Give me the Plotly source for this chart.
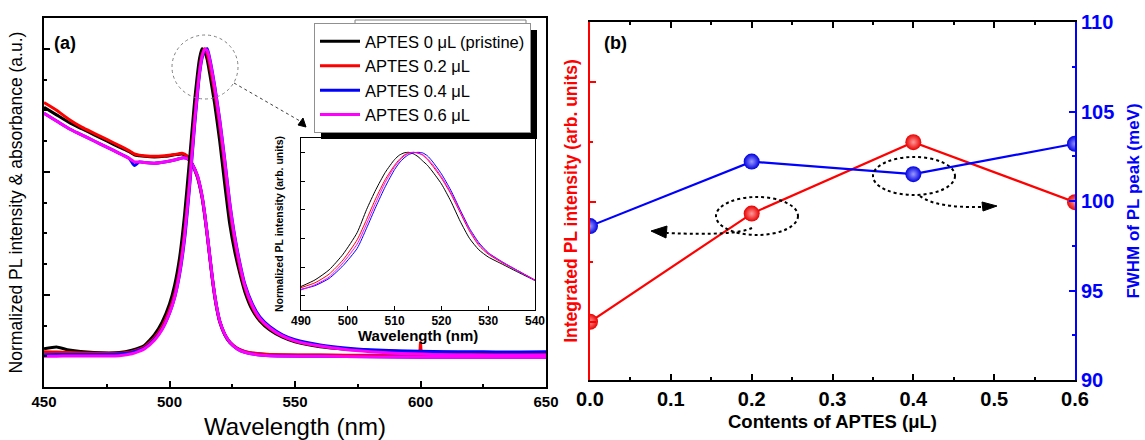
import plotly.graph_objects as go

W, H = 1145, 440
def px(x): return x / W
def py(y): return 1 - y / H

FONT = "Liberation Sans, Arial, sans-serif"

# ---------------- data: panel (a) ----------------
series_names = ["APTES 0 μL (pristine)", "APTES 0.2 μL", "APTES 0.4 μL", "APTES 0.6 μL"]
series_colors = ["#000000", "#ff0000", "#0000ff", "#ff00ff"]

pl_wl = [450, 455, 460, 470, 480, 485, 490, 494, 497, 500, 502, 504, 506, 508, 510, 512, 513, 514,
         515, 516, 518, 520, 522, 524, 526, 528, 530, 533, 536, 540, 545, 550, 560, 570, 580, 590,
         600, 610, 620, 630, 640, 650]
pl_wl_red = [450, 455, 460, 470, 480, 485, 490, 494, 497, 500, 502, 504, 506, 508, 510, 512, 513, 514,
             515, 516, 518, 520, 522, 524, 526, 528, 530, 533, 536, 540, 545, 550, 560, 570, 580, 590,
             599.5, 600, 600.5, 610, 620, 630, 640, 650]
pl_black = [0.024, 0.030, 0.020, 0.012, 0.012, 0.020, 0.035, 0.070, 0.110, 0.170, 0.230, 0.320, 0.460,
            0.640, 0.830, 0.970, 1.000, 0.990, 0.965, 0.920, 0.820, 0.700, 0.560, 0.430, 0.340, 0.270,
            0.210, 0.150, 0.115, 0.085, 0.062, 0.047, 0.031, 0.023, 0.019, 0.016, 0.014, 0.013, 0.012,
            0.012, 0.011, 0.011]
pl_red = [0.015, 0.014, 0.012, 0.010, 0.010, 0.015, 0.030, 0.060, 0.095, 0.150, 0.200, 0.280, 0.400,
          0.570, 0.770, 0.930, 0.980, 1.000, 0.985, 0.950, 0.860, 0.750, 0.620, 0.480, 0.375, 0.290,
          0.225, 0.160, 0.120, 0.090, 0.065, 0.049, 0.033, 0.024, 0.019, 0.016, 0.014, 0.045, 0.014,
          0.013, 0.012, 0.012, 0.012, 0.012]
pl_blue = [0.005, 0.006, 0.006, 0.006, 0.007, 0.012, 0.027, 0.055, 0.088, 0.140, 0.190, 0.265, 0.380,
           0.550, 0.750, 0.920, 0.970, 0.995, 1.000, 0.970, 0.880, 0.770, 0.640, 0.500, 0.390, 0.305,
           0.235, 0.170, 0.128, 0.096, 0.070, 0.054, 0.037, 0.027, 0.021, 0.018, 0.016, 0.015, 0.015,
           0.014, 0.014, 0.015]
pl_magenta = [0.000, 0.000, 0.001, 0.001, 0.002, 0.008, 0.024, 0.052, 0.086, 0.140, 0.190, 0.270, 0.390,
              0.560, 0.760, 0.925, 0.975, 0.998, 0.995, 0.965, 0.875, 0.765, 0.635, 0.495, 0.385, 0.300,
              0.230, 0.165, 0.123, 0.092, 0.066, 0.050, 0.033, 0.022, 0.015, 0.010, 0.007, 0.005, 0.004,
              0.003, 0.003, 0.003]

abs_wl = [450, 455, 460, 465, 470, 475, 480, 484, 486, 488, 490, 494, 498, 502, 505, 507, 509, 511, 512,
          513, 514, 515, 516, 517, 518, 519, 520, 522, 524, 527, 530, 535, 540, 560, 580, 600, 620, 650]
abs_black = [0.810, 0.785, 0.760, 0.740, 0.720, 0.700, 0.680, 0.665, 0.655, 0.652, 0.650, 0.648, 0.650,
             0.655, 0.658, 0.650, 0.625, 0.585, 0.555, 0.515, 0.460, 0.395, 0.325, 0.255, 0.195, 0.148,
             0.112, 0.070, 0.045, 0.025, 0.015, 0.008, 0.005, 0.003, 0.002, 0.001, 0.000, 0.000]
abs_red = [0.825, 0.800, 0.770, 0.745, 0.725, 0.705, 0.685, 0.668, 0.658, 0.654, 0.652, 0.650, 0.652,
           0.656, 0.660, 0.652, 0.626, 0.586, 0.556, 0.516, 0.461, 0.396, 0.326, 0.256, 0.196, 0.149,
           0.113, 0.071, 0.046, 0.026, 0.016, 0.009, 0.006, 0.004, 0.003, 0.002, 0.001, 0.001]
abs_blue = [0.790, 0.765, 0.740, 0.720, 0.700, 0.680, 0.660, 0.643, 0.620, 0.632, 0.630, 0.628, 0.632,
            0.638, 0.645, 0.643, 0.625, 0.590, 0.560, 0.520, 0.465, 0.400, 0.330, 0.260, 0.200, 0.152,
            0.115, 0.072, 0.046, 0.024, 0.013, 0.005, 0.002, 0.000, -0.002, -0.003, -0.003, -0.003]
abs_magenta = [0.790, 0.765, 0.740, 0.720, 0.700, 0.680, 0.660, 0.643, 0.632, 0.632, 0.630, 0.628, 0.632,
               0.638, 0.645, 0.643, 0.625, 0.590, 0.560, 0.520, 0.465, 0.400, 0.330, 0.260, 0.200, 0.152,
               0.115, 0.072, 0.046, 0.024, 0.013, 0.005, 0.002, 0.000, -0.002, -0.003, -0.003, -0.003]

# inset
inset_wl = [490, 493, 496, 499, 502, 504, 506, 508, 510, 511, 512, 513, 514, 515, 516, 517, 518, 520,
            522, 524, 526, 528, 530, 533, 536, 540]
inset_black = [0.532, 0.555, 0.590, 0.645, 0.720, 0.800, 0.870, 0.930, 0.975, 0.990, 0.998, 1.000, 0.995,
               0.985, 0.970, 0.955, 0.935, 0.890, 0.830, 0.760, 0.700, 0.660, 0.635, 0.610, 0.585, 0.553]
inset_red = [0.528, 0.545, 0.575, 0.625, 0.695, 0.765, 0.840, 0.905, 0.955, 0.975, 0.990, 0.998, 1.000,
             0.997, 0.990, 0.975, 0.955, 0.910, 0.855, 0.790, 0.725, 0.675, 0.645, 0.615, 0.590, 0.555]
inset_blue = [0.522, 0.535, 0.560, 0.605, 0.665, 0.735, 0.810, 0.880, 0.940, 0.963, 0.980, 0.992, 0.998,
              1.000, 0.998, 0.988, 0.970, 0.925, 0.868, 0.800, 0.735, 0.685, 0.650, 0.618, 0.590, 0.553]
inset_magenta = [0.520, 0.538, 0.565, 0.615, 0.680, 0.750, 0.825, 0.895, 0.950, 0.970, 0.987, 0.996, 1.000,
                 0.998, 0.992, 0.978, 0.960, 0.915, 0.860, 0.795, 0.730, 0.680, 0.648, 0.617, 0.590, 0.553]

# ---------------- data: panel (b) ----------------
aptes = [0.0, 0.2, 0.4, 0.6]
integrated_pl = [1.01, 2.81, 4.00, 3.00]
fwhm_mev = [98.6, 102.2, 101.5, 103.2]

fig = go.Figure()

pl_sets = [(pl_wl, pl_black), (pl_wl_red, pl_red), (pl_wl, pl_blue), (pl_wl, pl_magenta)]
abs_sets = [abs_black, abs_red, abs_blue, abs_magenta]
inset_sets = [inset_black, inset_red, inset_blue, inset_magenta]

for i in range(4):
    fig.add_trace(go.Scatter(x=abs_wl, y=abs_sets[i], mode="lines", xaxis="x", yaxis="y",
                             line=dict(color=series_colors[i], width=3, shape="spline", smoothing=0.5),
                             showlegend=False, hoverinfo="skip"))
for i in range(4):
    wl, vals = pl_sets[i]
    fig.add_trace(go.Scatter(x=wl, y=vals, mode="lines", xaxis="x", yaxis="y",
                             name=series_names[i],
                             line=dict(color=series_colors[i], width=3, shape="spline", smoothing=0.5),
                             showlegend=True))
for i in range(4):
    fig.add_trace(go.Scatter(x=inset_wl, y=inset_sets[i], mode="lines", xaxis="x3", yaxis="y3",
                             line=dict(color=series_colors[i], width=1, shape="spline", smoothing=0.6),
                             showlegend=False))

# panel (b)
fig.add_trace(go.Scatter(x=aptes, y=integrated_pl, mode="lines+markers", xaxis="x2", yaxis="y2",
                         line=dict(color="#ff0000", width=2.2),
                         marker=dict(size=16, color="#e80000",
                                     gradient=dict(type="radial", color="#ff9a9a")),
                         showlegend=False))
fig.add_trace(go.Scatter(x=aptes, y=fwhm_mev, mode="lines+markers", xaxis="x2", yaxis="y4",
                         line=dict(color="#0000ff", width=2.2),
                         marker=dict(size=16, color="#0000e0",
                                     gradient=dict(type="radial", color="#9a9aff")),
                         showlegend=False))

fig.update_layout(
    width=W, height=H, margin=dict(l=0, r=0, t=0, b=0, autoexpand=False),
    paper_bgcolor="white", plot_bgcolor="white",
    font=dict(family=FONT, color="black"),
    xaxis=dict(domain=[px(44), px(546)], range=[450, 650], dtick=50, tick0=450, automargin=False,
               ticks="inside", ticklen=6, tickwidth=2, tickcolor="black",
               minor=dict(dtick=25, ticks="inside", ticklen=3, tickwidth=2, tickcolor="black"),
               showline=True, linewidth=2, linecolor="black", mirror=True, showgrid=False, zeroline=False,
               tickfont=dict(family=FONT, size=15, color="black", weight="bold"),
               title=dict(text="Wavelength (nm)", font=dict(family=FONT, size=24), standoff=10),
               anchor="y"),
    yaxis=dict(domain=[py(387), py(18)], range=[-0.1, 1.1], dtick=0.4, tick0=0.2, automargin=False,
               ticks="inside", ticklen=6, tickwidth=2, tickcolor="black",
               minor=dict(dtick=0.1, ticks="inside", ticklen=3, tickwidth=2, tickcolor="black"),
               showticklabels=False,
               showline=True, linewidth=2, linecolor="black", mirror=True, showgrid=False, zeroline=False,
               title=dict(text="Normalized PL intensity &amp; absorbance (a.u.)",
                          font=dict(family=FONT, size=17.5), standoff=15),
               anchor="x"),
    xaxis3=dict(domain=[px(301), px(535)], range=[490, 540], dtick=10, tick0=490, automargin=False,
                ticks="inside", ticklen=4, tickwidth=1, tickcolor="black",
                showline=True, linewidth=1, linecolor="black", mirror=True, showgrid=False, zeroline=False,
                tickfont=dict(family=FONT, size=12, color="black", weight="bold"),
                anchor="y3"),
    yaxis3=dict(domain=[py(310), py(138)], range=[0.45, 1.05], dtick=0.1, tick0=0.5, automargin=False,
                ticks="inside", ticklen=4, tickwidth=1, tickcolor="black",
                showticklabels=False,
                showline=True, linewidth=1, linecolor="black", mirror=True, showgrid=False, zeroline=False,
                title=dict(text="Normalized PL intensity (arb. units)",
                           font=dict(family=FONT, size=10.5, weight="bold"), standoff=14),
                anchor="x3"),
    xaxis2=dict(domain=[px(590), px(1075)], range=[0, 0.6], dtick=0.1, tick0=0, tickformat=".1f",
                automargin=False,
                ticks="inside", ticklen=6, tickwidth=2, tickcolor="black",
                minor=dict(dtick=0.05, ticks="inside", ticklen=3, tickwidth=2, tickcolor="black"),
                showline=True, linewidth=2, linecolor="black", mirror="ticks", showgrid=False, zeroline=False,
                tickfont=dict(family=FONT, size=20, color="black", weight="bold"),
                title=dict(text="Contents of APTES (μL)", font=dict(family=FONT, size=18.5, weight="bold"),
                           standoff=6),
                anchor="y2"),
    yaxis2=dict(domain=[py(380), py(22)], range=[0.04, 6.0], dtick=2, tick0=1, automargin=False,
                ticks="inside", ticklen=6, tickwidth=2, tickcolor="#ff0000",
                minor=dict(dtick=1, ticks="inside", ticklen=3, tickwidth=2, tickcolor="#ff0000"),
                showticklabels=False,
                showline=True, linewidth=2, linecolor="#ff0000", showgrid=False, zeroline=False,
                title=dict(text="Integrated PL intensity (arb. units)",
                           font=dict(family=FONT, size=17.5, color="#ff0000", weight="bold"), standoff=6),
                anchor="x2"),
    yaxis4=dict(domain=[py(380), py(22)], range=[90, 110], dtick=5, tick0=90, automargin=False,
                overlaying="y2", side="right",
                ticks="inside", ticklen=6, tickwidth=2, tickcolor="#0000ff",
                minor=dict(dtick=2.5, ticks="inside", ticklen=3, tickwidth=2, tickcolor="#0000ff"),
                showline=True, linewidth=2, linecolor="#0000ff", showgrid=False, zeroline=False,
                tickfont=dict(family=FONT, size=20, color="#0000ff", weight="bold"),
                title=dict(text="FWHM of PL peak (meV)",
                           font=dict(family=FONT, size=17, color="#0000ff", weight="bold"), standoff=14),
                anchor="x2"),
    legend=dict(x=px(314), y=py(23), xanchor="left", yanchor="top",
                bgcolor="white", bordercolor="#909090", borderwidth=1,
                font=dict(family=FONT, size=16.5, color="black"),
                itemwidth=40, tracegroupgap=0),
)

shapes = []
# grey box behind legend and legend shadow
shapes.append(dict(type="rect", xref="paper", yref="paper", x0=px(355), x1=px(526), y0=py(45), y1=py(20),
                   line=dict(color="#808080", width=1), fillcolor="white", layer="above"))
shapes.append(dict(type="rect", xref="paper", yref="paper", x0=px(321), x1=px(537), y0=py(139), y1=py(30),
                   line=dict(width=0), fillcolor="black", layer="above"))
# dotted circle around peak and arrow to inset
shapes.append(dict(type="circle", xref="paper", yref="paper", x0=px(172), x1=px(238), y0=py(99), y1=py(35),
                   line=dict(color="#808080", width=1, dash="dot"), layer="above"))
shapes.append(dict(type="line", xref="paper", yref="paper", x0=px(234), y0=py(83), x1=px(300), y1=py(121),
                   line=dict(color="#404040", width=1, dash="dot"), layer="above"))
shapes.append(dict(type="path", xref="paper", yref="paper",
                   path=f"M {px(306)} {py(127)} L {px(298)} {py(125)} L {px(303)} {py(118)} Z",
                   fillcolor="black", line=dict(color="black", width=1), layer="above"))
# panel (b) dotted ellipses and curved arrows
shapes.append(dict(type="circle", xref="paper", yref="paper", x0=px(716), x1=px(798), y0=py(235), y1=py(197),
                   line=dict(color="black", width=2, dash="dot"), layer="above"))
shapes.append(dict(type="circle", xref="paper", yref="paper", x0=px(873), x1=px(955), y0=py(195), y1=py(157),
                   line=dict(color="black", width=2, dash="dot"), layer="above"))
shapes.append(dict(type="path", xref="paper", yref="paper",
                   path=f"M {px(752)} {py(228)} Q {px(735)} {py(236)} {px(667)} {py(233)}",
                   line=dict(color="black", width=2, dash="dot"), layer="above"))
shapes.append(dict(type="path", xref="paper", yref="paper",
                   path=f"M {px(651)} {py(231)} L {px(667)} {py(226)} L {px(666)} {py(238)} Z",
                   fillcolor="black", line=dict(color="black", width=1), layer="above"))
shapes.append(dict(type="path", xref="paper", yref="paper",
                   path=f"M {px(920)} {py(196)} Q {px(935)} {py(208)} {px(983)} {py(207)}",
                   line=dict(color="black", width=2, dash="dot"), layer="above"))
shapes.append(dict(type="path", xref="paper", yref="paper",
                   path=f"M {px(997)} {py(206)} L {px(982)} {py(202)} L {px(983)} {py(211)} Z",
                   fillcolor="black", line=dict(color="black", width=1), layer="above"))
fig.update_layout(shapes=shapes)

fig.add_annotation(x=px(52), y=py(43), xref="paper", yref="paper", text="<b>(a)</b>", showarrow=False,
                   xanchor="left", yanchor="middle", font=dict(family=FONT, size=18, color="black"))
fig.add_annotation(x=px(602), y=py(43), xref="paper", yref="paper", text="<b>(b)</b>", showarrow=False,
                   xanchor="left", yanchor="middle", font=dict(family=FONT, size=18, color="black"))
# inset x-axis title
fig.add_annotation(x=px(418), y=py(335), xref="paper", yref="paper", text="<b>Wavelength (nm)</b>",
                   showarrow=False, xanchor="center", yanchor="middle",
                   font=dict(family=FONT, size=15, color="black"))

fig.write_html("out.html", post_script="document.body.style.margin='0px';",
               config={"displayModeBar": False})
